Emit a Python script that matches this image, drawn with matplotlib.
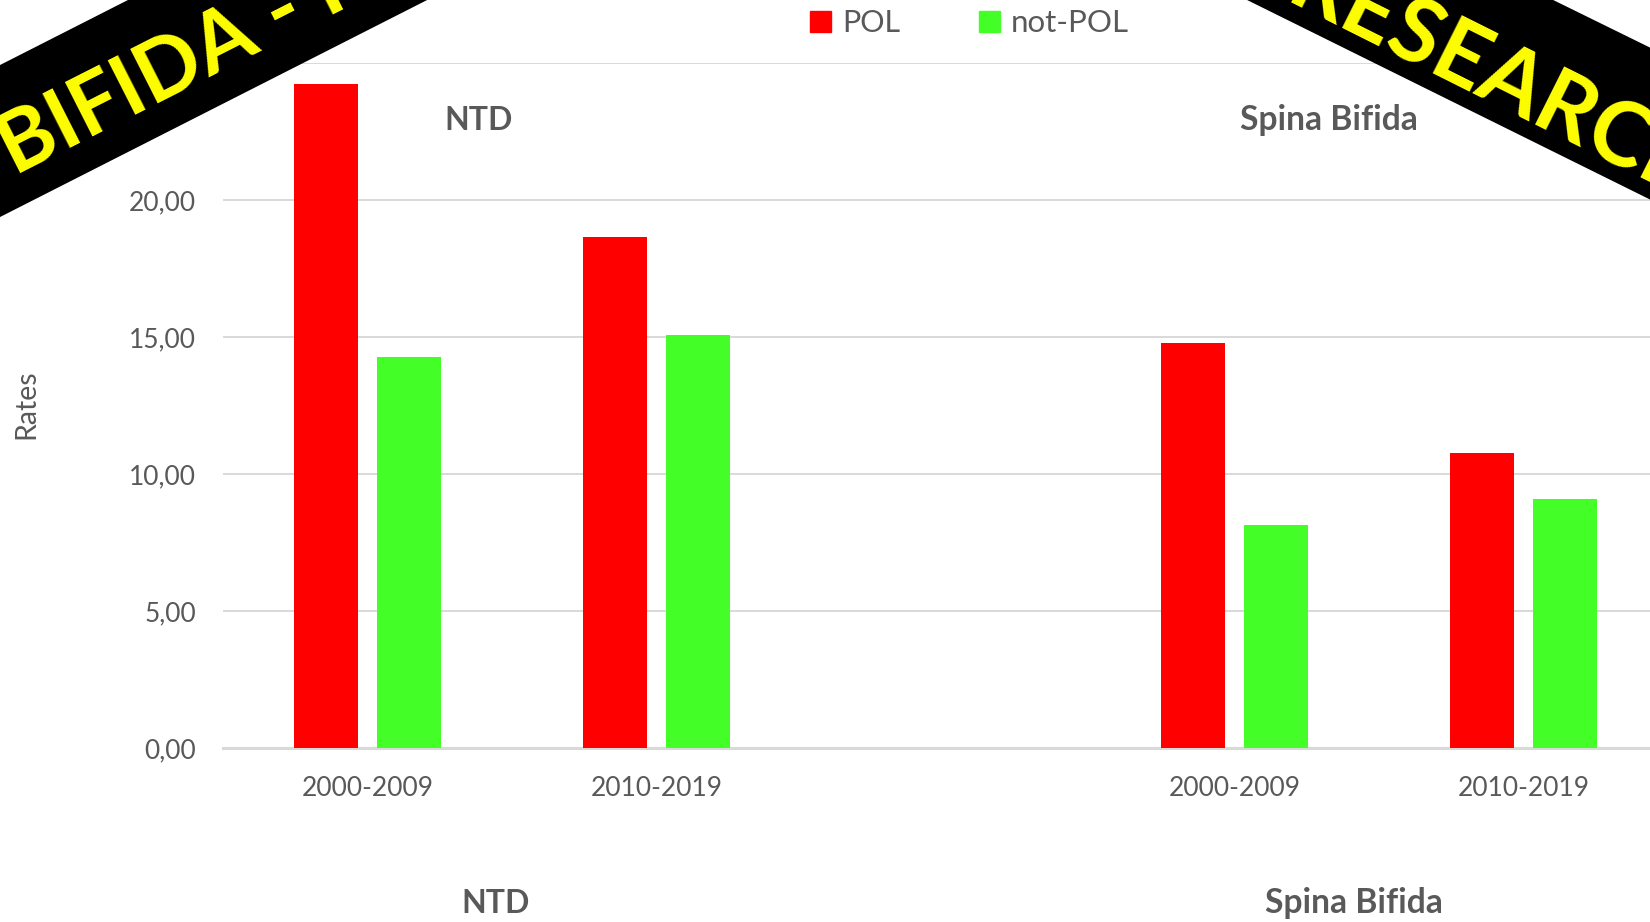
import matplotlib
matplotlib.use("Agg")
import matplotlib.pyplot as plt
from matplotlib.patches import Polygon, Rectangle
from matplotlib.ticker import FuncFormatter

# ---- data ----
groups = ["NTD", "Spina Bifida"]
periods = ["2000-2009", "2010-2019"]
series = ["POL", "not-POL"]
pol = [24.22, 18.66, 14.78, 10.75]
not_pol = [14.28, 15.09, 8.14, 9.10]
yticks = [0, 5, 10, 15, 20, 25]

RED = "#FF0000"
GREEN = "#44FF27"
GREY = "#595959"
GRID = "#D9D9D9"
FONT = "Lato"

plt.rcParams["font.family"] = [FONT, "DejaVu Sans"]

W, H = 1650, 922
fig = plt.figure(figsize=(W / 100, H / 100), dpi=100)

# plot area (pixels): left 223, bottom 748, top 63, right beyond edge
left_px, bottom_px, top_px = 223, 748, 63
ax = fig.add_axes([left_px / W, 1 - bottom_px / H, 1 - left_px / W, (bottom_px - top_px) / H])

# category positions: two groups with an empty slot between
pos = []
labels = []
for gi, g in enumerate(groups):
    for pi, p in enumerate(periods):
        pos.append(gi * 3 + pi)
        labels.append(p)

bw = 0.222
off = 0.144
ax.bar([p - off for p in pos], pol, width=bw, color=RED, zorder=3)
ax.bar([p + off for p in pos], not_pol, width=bw, color=GREEN, zorder=3)

ax.set_xlim(-0.5, 4.438)
ax.set_ylim(0, 25)
ax.set_yticks(yticks)
ax.yaxis.set_major_formatter(FuncFormatter(lambda v, _: f"{v:.2f}".replace(".", ",")))
ax.set_xticks(pos)
ax.set_xticklabels(labels)
ax.tick_params(axis="y", length=0, pad=19.4, labelsize=19, labelcolor=GREY)
ax.tick_params(axis="x", length=0, pad=20, labelsize=19, labelcolor=GREY)
ax.grid(axis="y", color=GRID, linewidth=1.4, zorder=0)
for s in ["left", "right", "top"]:
    ax.spines[s].set_visible(False)
ax.spines["bottom"].set_color(GRID)
ax.spines["bottom"].set_linewidth(2.2)

# ---- overlay in pixel coordinates ----
ov = fig.add_axes([0, 0, 1, 1])
ov.set_xlim(0, W)
ov.set_ylim(H, 0)
ov.axis("off")

# y-axis title
ov.text(26, 404, "Rates", rotation=90, ha="center", va="center", fontsize=20.5, color=GREY)

# inner titles
ov.text(479, 120, groups[0], ha="center", va="center", fontsize=23, fontweight="bold", color=GREY)
ov.text(1329, 120, groups[1], ha="center", va="center", fontsize=24.2, fontweight="bold", color=GREY)

# group labels at bottom
ov.text(496, 903, groups[0], ha="center", va="center", fontsize=23, fontweight="bold", color=GREY)
ov.text(1354, 903, groups[1], ha="center", va="center", fontsize=24.2, fontweight="bold", color=GREY)

# legend
ov.add_patch(Rectangle((810, 11), 21, 21, color=RED))
ov.text(842, 23, series[0], ha="left", va="center", fontsize=22, color=GREY)
ov.add_patch(Rectangle((979, 11), 21, 21, color=GREEN))
ov.text(1011, 23, series[1], ha="left", va="center", fontsize=22.5, color=GREY)

# corner banners
ov.add_patch(Polygon([(-20, 75.2), (137.8, -5), (437, -5), (-20, 227.2)], closed=True,
                     facecolor="black", edgecolor="none", zorder=5))
ov.add_patch(Polygon([(1237, -5), (1543, -5), (1670, 57.4), (1670, 209.4)], closed=True,
                     facecolor="black", edgecolor="none", zorder=5))
ov.text(15, 177, "BIFIDA - FOLIC ACID", rotation=26.9, rotation_mode="anchor",
        ha="left", va="baseline", fontsize=61, fontweight="bold", color="#FFFF00", zorder=6)
ov.text(1489, 106, "RESEARCH", rotation=-26.6, rotation_mode="anchor",
        ha="center", va="baseline", fontsize=65, fontweight="bold", color="#FFFF00", zorder=6)

fig.savefig("out.png", dpi=100)
